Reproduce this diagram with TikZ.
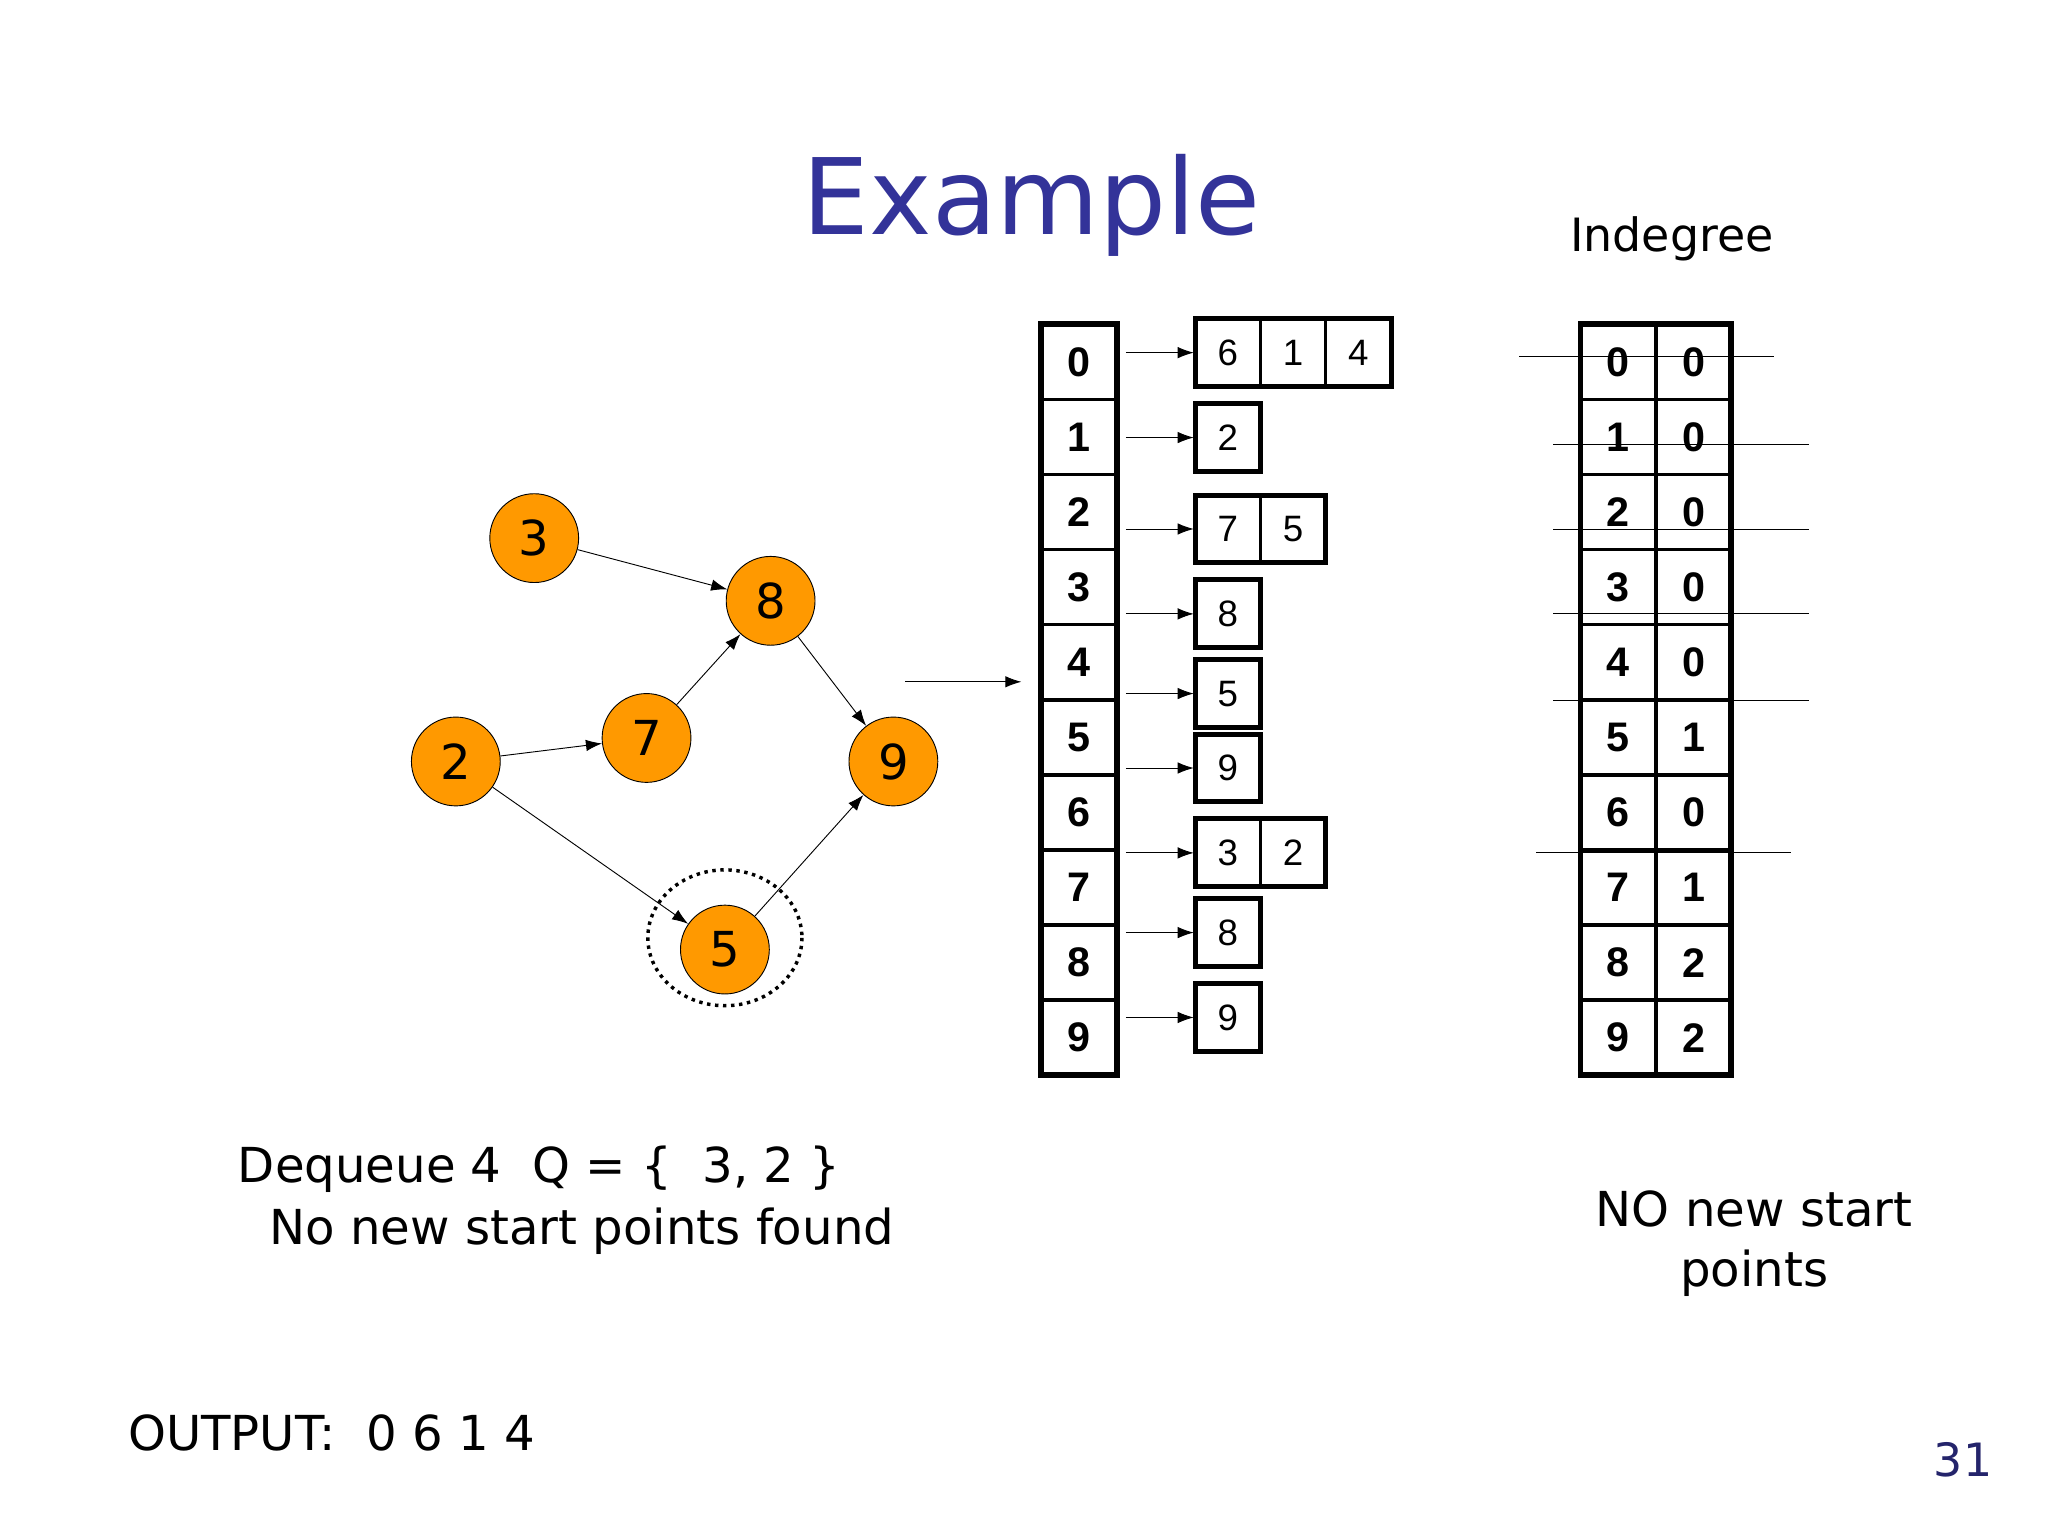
\documentclass[tikz,border=0pt]{standalone}
\usepackage{fontspec}
\setmainfont{DejaVu Sans}
\newfontfamily\arialf{Liberation Sans}
\usetikzlibrary{arrows.meta}
\definecolor{titleblue}{RGB}{51,51,153}
\definecolor{nodeor}{RGB}{255,153,0}
\begin{document}
\begin{tikzpicture}[x=0.02cm,y=-0.02cm,
 gn/.style={circle,draw,fill=nodeor,minimum size=68*0.02cm,inner sep=0,font=\fontsize{21}{21}\selectfont},
 ed/.style={-{Latex[length=7pt,width=5pt]},thin},
 cell/.style={draw,line width=1.6pt,minimum width=58*0.02cm,minimum height=57.5*0.02cm,inner sep=0,font=\arialf\bfseries\fontsize{18}{18}\selectfont},
 lc/.style={draw,line width=1.2pt,minimum width=50*0.02cm,minimum height=52*0.02cm,inner sep=0,font=\arialf\fontsize{16}{16}\selectfont},
 strike/.style={thin}]
\useasboundingbox (0,0) rectangle (1568,1176);
\node[font=\fontsize{46}{46}\selectfont,text=titleblue] (title) at (790,157) {Example};
\node[font=\fontsize{20}{20}\selectfont] (indeg) at (1280,183) {Indegree};
% graph
\node[gn] (n3) at (409,412) {3};
\node[gn] (n8) at (590,460) {8};
\node[gn] (n7) at (495,565) {7};
\node[gn] (n2) at (349,583) {2};
\node[gn] (n9) at (684,583) {9};
\node[gn] (n5) at (555,727) {5};
\draw[dotted,line width=1.5pt] (555,718) ellipse (59 and 52);
\draw[ed] (n3)--(n8);
\draw[ed] (n2)--(n7);
\draw[ed] (n7)--(n8);
\draw[ed] (n8)--(n9);
\draw[ed] (n2)--(n5);
\draw[ed] (n5)--(n9);
\coordinate (ga) at (693,522);
\coordinate (gb) at (782,522);
\draw[ed] (ga)--(gb);
% adjacency array
\foreach \i in {0,...,9}{
  \node[cell] (a\i) at (826,{277+57.5*\i}) {\i};
  \node[cell] (d\i) at (1239,{277+57.5*\i}) {\i};
}
\draw[line width=2.5pt] (797,248) rectangle (855,823);
\foreach \i/\v in {0/0,1/0,2/0,3/0,4/0,5/1,6/0,7/1,8/2,9/2}{
  \node[cell] (v\i) at (1297,{277+57.5*\i}) {\v};
}
\draw[line width=2.5pt] (1210,248) rectangle (1325,823);
% lists
\foreach \y/\lst [count=\k] in {270/{6,1,4},335/{2},405/{7,5},470/{8},531/{5},588/{9},653/{3,2},714/{8},779/{9}}{
  \coordinate (s\k) at (862,\y);
  \foreach \e [count=\j] in \lst {
    \node[lc] (l\k-\j) at ({940+50*(\j-1)},\y) {\e};
    \xdef\last{\j}
  }
  \draw[line width=2.2pt] (915,\y-26) rectangle ({915+50*\last},\y+26);
  \draw[ed] (s\k)--(l\k-1.west);
}
% strike lines
\foreach \y/\a/\b [count=\k] in {273/1163/1358,340/1189/1385,405/1189/1385,470/1189/1385,536/1189/1385,653/1176/1371}{
  \coordinate (p\k) at (\a,\y); \coordinate (q\k) at (\b,\y);
  \draw[strike] (p\k)--(q\k);
}
% texts
\node[anchor=west,font=\fontsize{21}{21}\selectfont] (t1) at (176,895) {Dequeue 4\ \ Q = \{\ \ 3, 2 \}};
\node[anchor=west,font=\fontsize{21}{21}\selectfont] (t2) at (200,943) {No new start points found};
\node[align=center,font=\fontsize{21}{26}\selectfont] (t3) at (1343,952) {NO new start\\points};
\node[anchor=west,font=\fontsize{21}{21}\selectfont] (t4) at (92,1097) {OUTPUT:\ \ 0 6 1 4};
\node[font=\fontsize{20}{20}\selectfont,text=titleblue!70!black] (pg) at (1503,1118) {31};
\end{tikzpicture}
\end{document}
